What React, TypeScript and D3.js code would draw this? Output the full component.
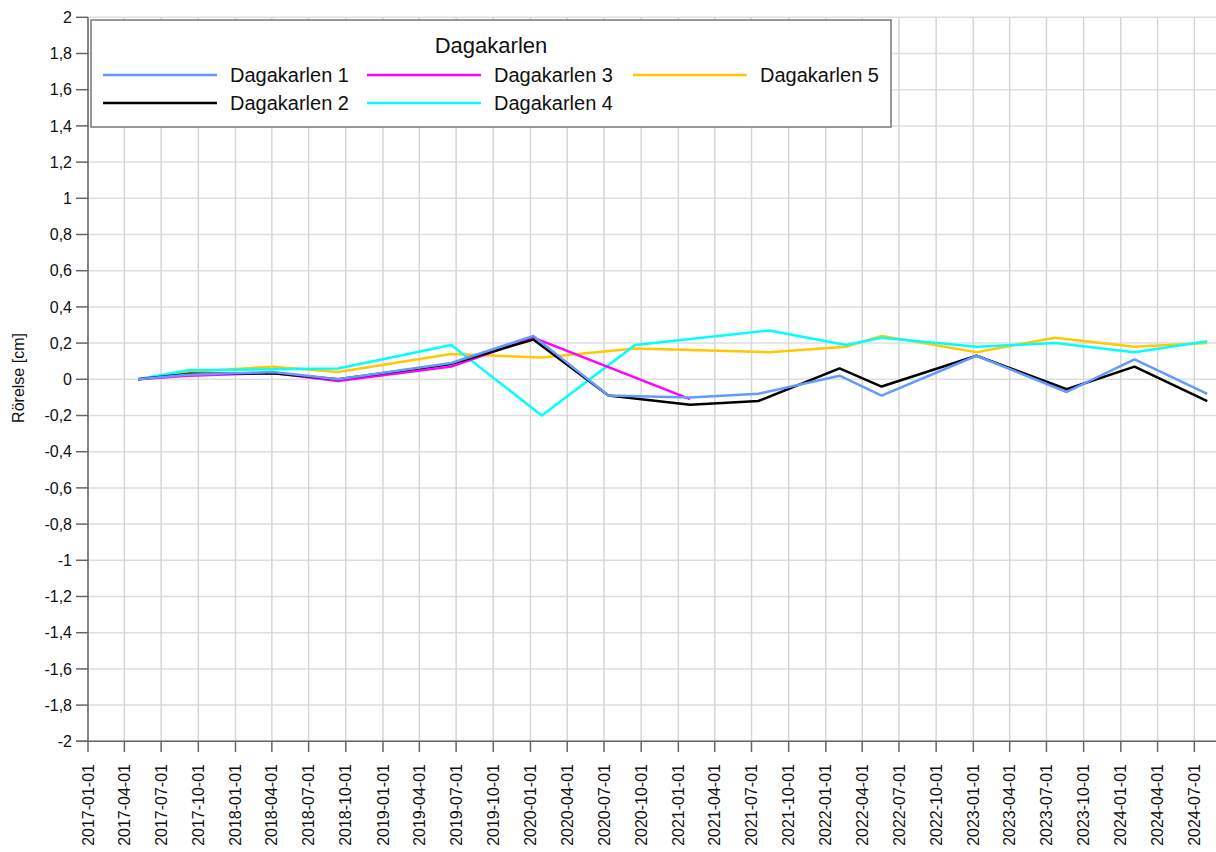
import React from "react";
import * as d3 from "d3";

const yTicks = [-2, -1.8, -1.6, -1.4, -1.2, -1, -0.8, -0.6, -0.4, -0.2, 0, 0.2, 0.4, 0.6, 0.8, 1, 1.2, 1.4, 1.6, 1.8, 2];

const datesA = ["2017-05-05", "2017-09-06", "2018-04-04", "2018-09-12", "2019-06-19", "2020-01-08", "2020-07-12", "2021-01-30", "2021-07-18", "2022-02-04", "2022-05-19", "2023-01-09", "2023-08-20", "2024-02-04", "2024-08-02"];
const d1Values = [0, 0.025, 0.04, 0, 0.09, 0.24, -0.09, -0.1, -0.08, 0.02, -0.09, 0.13, -0.07, 0.11, -0.08];
const d2Values = [0, 0.03, 0.033, 0, 0.085, 0.22, -0.09, -0.14, -0.12, 0.06, -0.04, 0.13, -0.055, 0.07, -0.12];

const datesB = ["2017-05-05", "2017-09-06", "2018-04-04", "2018-09-12", "2019-06-19", "2020-01-08", "2021-01-30"];
const d3Values = [0, 0.02, 0.035, -0.01, 0.07, 0.23, -0.11];

const datesC = ["2017-05-05", "2017-09-06", "2018-04-04", "2018-09-12", "2019-06-19", "2020-01-29", "2020-09-16", "2021-08-14", "2022-02-20", "2022-05-19", "2023-01-09", "2023-07-22", "2024-02-04", "2024-08-02"];
const d4Values = [0, 0.05, 0.055, 0.06, 0.19, -0.2, 0.19, 0.27, 0.19, 0.23, 0.18, 0.2, 0.15, 0.21];
const d5Values = [0, 0.04, 0.07, 0.04, 0.14, 0.12, 0.17, 0.15, 0.18, 0.24, 0.15, 0.23, 0.18, 0.2];

const seriesNames = ["Dagakarlen 1", "Dagakarlen 2", "Dagakarlen 3", "Dagakarlen 4", "Dagakarlen 5"];
const seriesColors = ["#6699ff", "#000000", "#ff00ff", "#00ffff", "#ffc800"];
const legendTitle = "Dagakarlen";
const yTitle = "Rörelse [cm]";

const parse = d3.timeParse("%Y-%m-%d");
const FONT = "'Liberation Sans', Arial, sans-serif";

export default function App() {
  const left = 88;
  const top = 17.3;
  const bottom = 741.3;
  const x = d3.scaleTime().domain([parse("2017-01-01")!, parse("2024-08-31")!]).range([left, 1219]);
  const y = d3.scaleLinear().domain([-2, 2]).range([bottom, top]);
  const xTicks = d3.timeMonth.every(3)!.range(parse("2017-01-01")!, parse("2024-08-01")!);
  const fmtY = (v: number) => d3.format(".1~f")(v).replace(".", ",").replace("−", "-");
  const fmtX = d3.timeFormat("%Y-%m-%d");

  const series = [
    { dates: datesA, values: d1Values },
    { dates: datesA, values: d2Values },
    { dates: datesB, values: d3Values },
    { dates: datesC, values: d4Values },
    { dates: datesC, values: d5Values },
  ].map((s, i) => ({
    name: seriesNames[i],
    color: seriesColors[i],
    points: s.dates.map((d, j) => [parse(d)!, s.values[j]] as [Date, number]),
  }));

  const line = d3
    .line<[Date, number]>()
    .x((d) => x(d[0]))
    .y((d) => y(d[1]));

  const legendItems = [
    { i: 0, lx: 103, ly: 75 },
    { i: 1, lx: 103, ly: 103 },
    { i: 2, lx: 367, ly: 75 },
    { i: 3, lx: 367, ly: 103 },
    { i: 4, lx: 633, ly: 75 },
  ];

  return (
    <svg width={1216} height={852} style={{ position: "absolute", left: 0, top: 0, background: "#fff" }} fontFamily={FONT}>
      <rect x={0} y={0} width={1216} height={852} fill="#fff" />
      {/* grid */}
      {yTicks.map((t) => (
        <line key={"gy" + t} x1={left} x2={1216} y1={y(t)} y2={y(t)} stroke="#dedede" strokeWidth={1.5} />
      ))}
      {xTicks.map((t) => (
        <line key={"gx" + t.getTime()} x1={x(t)} x2={x(t)} y1={top} y2={bottom} stroke="#d6d6d6" strokeWidth={1.5} />
      ))}
      {/* axes */}
      <line x1={left} x2={left} y1={top} y2={bottom} stroke="#666" strokeWidth={1.5} />
      <line x1={76} x2={1216} y1={bottom} y2={bottom} stroke="#666" strokeWidth={1.5} />
      {yTicks.map((t) => (
        <g key={"ty" + t}>
          <line x1={76} x2={left} y1={y(t)} y2={y(t)} stroke="#666" strokeWidth={1.5} />
          <text x={72} y={y(t)} dy="0.35em" textAnchor="end" fontSize={16} fill="#111">
            {fmtY(t)}
          </text>
        </g>
      ))}
      {xTicks.map((t) => (
        <g key={"tx" + t.getTime()}>
          <line x1={x(t)} x2={x(t)} y1={bottom} y2={752} stroke="#666" strokeWidth={1.5} />
          <text
            transform={`translate(${x(t)},764) rotate(-90)`}
            dy="0.35em"
            textAnchor="end"
            fontSize={16}
            fill="#111"
          >
            {fmtX(t)}
          </text>
        </g>
      ))}
      <text transform={`translate(18,378) rotate(-90)`} dy="0.35em" textAnchor="middle" fontSize={16} fill="#111">
        {yTitle}
      </text>
      {/* lines */}
      {series
        .slice()
        .reverse()
        .map((s) => (
          <path key={s.name} d={line(s.points) || ""} fill="none" stroke={s.color} strokeWidth={2.5} strokeLinejoin="round" />
        ))}
      {/* legend */}
      <rect x={91} y={20} width={800} height={107} fill="#fff" stroke="#777" strokeWidth={1.5} />
      <text x={491} y={45} dy="0.35em" textAnchor="middle" fontSize={22} fill="#111">
        {legendTitle}
      </text>
      {legendItems.map(({ i, lx, ly }) => (
        <g key={"lg" + i}>
          <line x1={lx} x2={lx + 114} y1={ly} y2={ly} stroke={seriesColors[i]} strokeWidth={2.5} />
          <text x={lx + 127} y={ly} dy="0.35em" fontSize={20} fill="#111">
            {seriesNames[i]}
          </text>
        </g>
      ))}
    </svg>
  );
}
